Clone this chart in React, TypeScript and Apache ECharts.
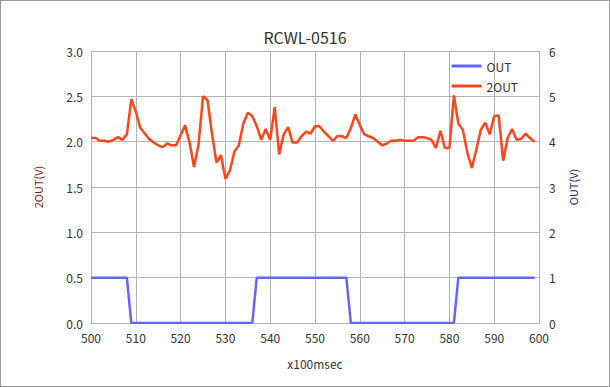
import React, { useEffect, useRef } from "react";
import * as echarts from "echarts";

const times: number[] = Array.from({ length: 100 }, (_, i) => 500 + i);

const out2Values: number[] = [
  2.04, 2.04, 2.01, 2.01, 2.0, 2.02, 2.05, 2.02, 2.08, 2.47,
  2.33, 2.15, 2.09, 2.03, 1.99, 1.96, 1.94, 1.98, 1.96, 1.96,
  2.07, 2.18, 1.99, 1.72, 1.97, 2.5, 2.46, 2.09, 1.77, 1.85,
  1.59, 1.68, 1.89, 1.96, 2.2, 2.32, 2.28, 2.17, 2.02, 2.14,
  2.02, 2.38, 1.86, 2.08, 2.16, 1.99, 1.99, 2.06, 2.11, 2.09,
  2.17, 2.17, 2.11, 2.06, 2.01, 2.06, 2.06, 2.04, 2.15, 2.3,
  2.18, 2.08, 2.06, 2.04, 2.0, 1.96, 1.98, 2.01, 2.01, 2.02,
  2.01, 2.01, 2.01, 2.05, 2.05, 2.04, 2.02, 1.93, 2.12, 1.93,
  1.93, 2.51, 2.2, 2.13, 1.88, 1.71, 1.91, 2.13, 2.21, 2.08,
  2.28, 2.29, 1.79, 2.04, 2.14, 2.02, 2.03, 2.09, 2.04, 2.0,
];

const outValues: number[] = [
  1, 1, 1, 1, 1, 1, 1, 1, 1, 0,
  0, 0, 0, 0, 0, 0, 0, 0, 0, 0,
  0, 0, 0, 0, 0, 0, 0, 0, 0, 0,
  0, 0, 0, 0, 0, 0, 0, 1, 1, 1,
  1, 1, 1, 1, 1, 1, 1, 1, 1, 1,
  1, 1, 1, 1, 1, 1, 1, 1, 0, 0,
  0, 0, 0, 0, 0, 0, 0, 0, 0, 0,
  0, 0, 0, 0, 0, 0, 0, 0, 0, 0,
  0, 0, 1, 1, 1, 1, 1, 1, 1, 1,
  1, 1, 1, 1, 1, 1, 1, 1, 1, 1,
];

const titleText = "RCWL-0516";
const xName = "x100msec";
const leftName = "2OUT(V)";
const rightName = "OUT(V)";

export default function App() {
  const ref = useRef<HTMLDivElement>(null);
  useEffect(() => {
    document.body.style.margin = "0";
    if (!ref.current) return;
    const chart = echarts.init(ref.current, undefined, { renderer: "svg" });
    const font = "'Noto Sans CJK JP', 'Noto Sans', sans-serif";
    const gridColor = "#b3b3b3";
    chart.setOption({
      animation: false,
      textStyle: { fontFamily: font },
      title: {
        text: titleText,
        left: "center",
        top: 23,
        textStyle: { fontSize: 16, fontWeight: "normal", color: "#333", fontFamily: font },
      },
      legend: {
        orient: "vertical",
        right: 86,
        top: 54,
        itemWidth: 30,
        itemHeight: 3,
        itemGap: 8,
        icon: "rect",
        textStyle: { fontSize: 12, color: "#333", fontFamily: font },
        data: ["OUT", "2OUT"],
      },
      grid: { left: 90, right: 70, top: 50, bottom: 63 },
      xAxis: {
        type: "value",
        min: 500,
        max: 600,
        interval: 10,
        name: xName,
        nameLocation: "middle",
        nameGap: 34,
        nameTextStyle: { fontSize: 12, color: "#333" },
        axisLine: { lineStyle: { color: gridColor } },
        axisTick: { show: false },
        axisLabel: { color: "#333", fontSize: 12, margin: 8 },
        splitLine: { show: true, lineStyle: { color: gridColor } },
      },
      yAxis: [
        {
          type: "value",
          min: 0,
          max: 3,
          interval: 0.5,
          name: leftName,
          nameLocation: "middle",
          nameGap: 48,
          nameRotate: 90,
          nameTextStyle: { fontSize: 11, color: "#8b1a1a" },
          axisLine: { show: true, lineStyle: { color: gridColor } },
          axisTick: { show: false },
          axisLabel: { color: "#333", fontSize: 12, formatter: (v: number) => v.toFixed(1) },
          splitLine: { show: true, lineStyle: { color: gridColor } },
        },
        {
          type: "value",
          min: 0,
          max: 6,
          interval: 1,
          name: rightName,
          nameLocation: "middle",
          nameGap: 28,
          nameRotate: 90,
          nameTextStyle: { fontSize: 11, color: "#2a2a8b" },
          axisLine: { show: true, lineStyle: { color: gridColor } },
          axisTick: { show: false },
          axisLabel: { color: "#333", fontSize: 12, margin: 10 },
          splitLine: { show: false },
        },
      ],
      series: [
        {
          name: "OUT",
          type: "line",
          yAxisIndex: 1,
          data: times.map((t, i) => [t, outValues[i]]),
          showSymbol: false,
          lineStyle: { color: "#6464ff", width: 2.5 },
          itemStyle: { color: "#6464ff" },
        },
        {
          name: "2OUT",
          type: "line",
          yAxisIndex: 0,
          data: times.map((t, i) => [t, out2Values[i]]),
          showSymbol: false,
          lineStyle: { color: "#ff4519", width: 2.5 },
          itemStyle: { color: "#ff4519" },
        },
      ],
    });
    return () => chart.dispose();
  }, []);
  return (
    <div
      ref={ref}
      style={{ width: 608, height: 385, border: "1px solid #999", background: "#fff" }}
    />
  );
}
